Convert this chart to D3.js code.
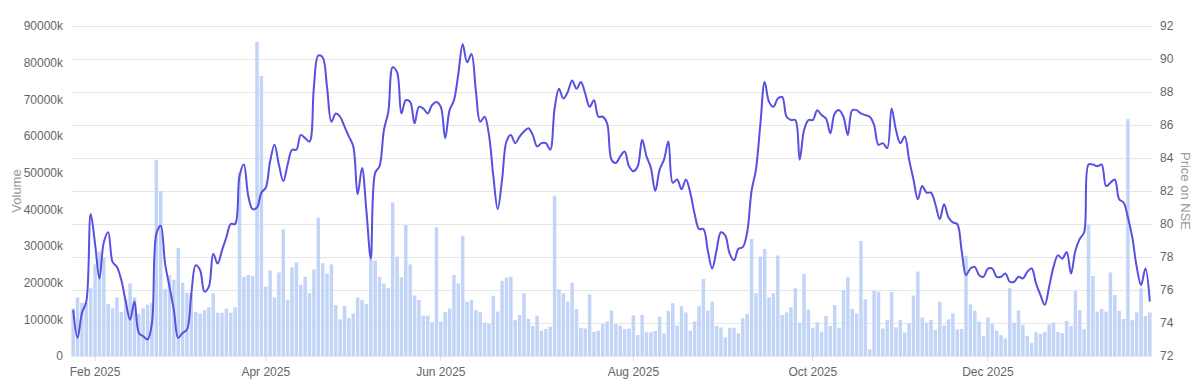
<!DOCTYPE html>
<html><head><meta charset="utf-8">
<script src="https://cdn.jsdelivr.net/npm/d3@7"></script>
<style>
body{margin:0;background:#fff;}
text{font-family:"Liberation Sans",Arial,Helvetica,sans-serif;}
</style>
</head><body>
<svg id="chart" width="1204" height="390"></svg>
<script>
// ---- calendar (NSE trading sessions) ----
const startDate = "2025-01-27";
const endDate = "2026-01-23";
const extraSessions = ["2025-02-01"];
const holidays = ["2025-02-26","2025-03-14","2025-03-31","2025-04-10","2025-04-14","2025-04-18",
  "2025-05-01","2025-08-15","2025-08-27","2025-10-02","2025-10-22","2025-11-05","2025-12-25",
  "2026-01-15","2026-01-26"];

// ---- volume, thousands of shares ----
const volumeK = [
  13,16,14.5,14.5,18.5,25,28.5,27,14.2,13,16,12,15.5,19.8,16,11.5,13,14,14.5,53.5,45,
  18.3,22,20.8,29.5,20,17.2,17,12,11.6,12.5,
  13.3,17.1,11.8,11.8,12.9,11.8,13.3,50,21.6,22.1,21.8,85.7,76.4,18.9,23.3,16,22.8,34.5,15.3,24.2,25.5,19.4,21.6,17.1,23.6,37.7,25.3,22.5,25,13.9,10,
  13.6,10.4,11.6,16,15.3,14.2,26.4,26,21.6,19.8,18.5,41.9,27.1,21.5,35.7,25,16.5,15.3,11,11,9.2,35.1,9.4,12,13,22.1,19.8,32.8,14.8,15.3,
  12.5,12,9.1,8.7,16.4,12.1,20.5,21.4,21.6,9.8,11.2,17.1,10.1,8.2,11,6.9,7.4,8,43.7,18.2,17.1,14.8,20,12.8,7.7,7.5,16.8,6.6,6.9,8.7,9.4,
  12.4,8.7,8.3,7.3,7.5,11.1,5.7,11.2,6.5,6.5,6.8,10.7,6.2,12.3,14.4,8.3,13.6,11.9,6.9,9.4,13.6,21,12.4,14.8,8.2,7.8,5.1,7.7,7.7,6.2,10.3,
  11.5,31.9,17.1,27.1,29.2,16,17.1,27.4,11.2,11.9,13.3,18.5,9.1,22.4,12.7,7.7,9.2,6.6,10.9,8.2,13.9,7.7,18,21.5,12.8,11.6,31.4,15.5,1.8,17.8,
  17.5,7.5,9.8,17.5,7.8,9.8,6.4,8.9,16.5,23,10.5,9.1,9.8,7.1,14.8,8.3,10,11.6,7.3,7.4,27.3,14.1,12.4,9.4,5.5,10.5,8.9,6.9,5.7,4.8,
  18.5,9.1,12.4,8.5,5.5,3.6,6.5,6,6.5,8.6,9.1,6.6,6.2,9.6,8.2,17.7,12.5,7.3,35.9,21.8,12.1,12.8,12.1,22.8,16.6,12.3,10.1,64.6,9.8,11.9,18.5,10.9,11.9
].map(v => v * 1000);

// ---- closing price on NSE ----
const price = [
  74.8,73.1,74.6,75.3,80.6,78.8,76.7,78.9,79.5,77.7,77.4,76.6,75.3,74.2,75.3,73.4,73.2,73.0,74.0,79.4,79.9,77.6,76.2,74.8,73.1,73.4,73.6,75.8,77.5,77.2,75.9,
  76.2,78.2,77.6,78.4,79.2,80.0,80.0,82.9,83.6,81.7,80.9,81.0,81.9,82.2,83.8,84.8,83.6,82.6,83.6,84.5,84.5,85.4,85.2,85.0,88.3,90.2,90.1,88.3,86.2,86.7,86.5,
  85.9,85.3,84.7,81.8,83.4,80.8,77.9,83.1,83.5,85.7,86.8,89.5,89.2,86.7,87.5,87.4,86.1,87.1,87.0,86.7,87.2,87.4,87.1,85.2,86.9,87.5,89.1,90.9,89.8,90.3,88.1,
  86.2,86.5,85.4,82.9,80.9,82.7,85.0,85.4,84.9,85.3,85.6,85.8,85.4,84.7,84.9,84.9,84.5,87.0,88.2,87.6,88.0,88.7,88.2,88.6,87.9,87.1,87.5,86.5,86.5,86.1,
  83.9,83.7,84.1,84.4,83.5,83.2,83.5,85.1,84.1,83.4,82.0,83.3,83.9,85.0,82.5,82.7,82.1,82.7,81.9,80.6,79.7,79.7,78.4,77.3,78.4,79.5,79.3,78.2,77.8,78.5,
  78.6,79.5,82.0,83.3,86.0,88.6,87.4,87.1,87.6,87.7,86.5,86.3,86.3,83.9,85.7,86.3,86.3,86.9,86.6,86.4,85.5,86.7,86.9,86.5,85.4,86.9,86.9,86.7,86.6,86.5,86.0,
  84.8,84.9,84.6,87.0,85.7,84.9,85.3,83.9,82.7,81.5,82.3,81.9,81.9,81.2,80.3,81.2,80.4,80.1,80.0,78.4,76.9,77.3,77.4,76.9,76.8,77.3,77.3,76.8,76.8,77.0,
  76.5,76.5,76.8,76.7,77.1,77.3,76.4,75.7,75.1,76.2,77.4,78.1,77.9,78.3,77.0,78.4,79.1,79.5,83.6,83.6,83.5,83.6,82.3,82.5,82.7,81.5,81.3,80.4,79.2,77.4,76.3,77.3,75.3
];

const volumeTicks = [0,10000,20000,30000,40000,50000,60000,70000,80000,90000];
const priceTicks = [72,74,76,78,80,82,84,86,88,90,92];
const monthTicks = ["2025-02","2025-04","2025-06","2025-08","2025-10","2025-12"];
const monthTickLabels = ["Feb 2025","Apr 2025","Jun 2025","Aug 2025","Oct 2025","Dec 2025"];

// ---- build trading dates ----
const fmt = d3.utcFormat("%Y-%m-%d");
const dates = [];
for (let d = new Date(startDate + "T00:00:00Z"); d <= new Date(endDate + "T00:00:00Z"); d = d3.utcDay.offset(d, 1)) {
  const s = fmt(d), wd = d.getUTCDay();
  if ((wd !== 0 && wd !== 6 && !holidays.includes(s)) || extraSessions.includes(s)) dates.push(s);
}
const data = dates.map((d, i) => ({date: d, vol: volumeK[i], price: price[i]}));

// ---- layout ----
const svg = d3.select("#chart");
const L = 71, R = 1152, T = 26, B = 356;

const x = d3.scaleBand().domain(dates).range([L, R]).paddingInner(0.2).paddingOuter(0.1);
const yVol = d3.scaleLinear().domain([0, 90000]).range([B, T]);
const yPrice = d3.scaleLinear().domain([72, 92]).range([B, T]);
const cx = d => x(d) + x.bandwidth() / 2;

// grid (price axis)
svg.append("g").selectAll("line").data(priceTicks).join("line")
  .attr("x1", L).attr("x2", R)
  .attr("y1", d => Math.round(yPrice(d)) + 0.5).attr("y2", d => Math.round(yPrice(d)) + 0.5)
  .attr("stroke", "#e6e6e6").attr("stroke-width", 1);

// bars
svg.append("g").selectAll("rect").data(data).join("rect")
  .attr("x", d => x(d.date)).attr("width", x.bandwidth())
  .attr("y", d => yVol(d.vol)).attr("height", d => B - yVol(d.vol))
  .attr("fill", "#c2d5f7");

// line
const line = d3.line().x(d => cx(d.date)).y(d => yPrice(d.price)).curve(d3.curveCatmullRom.alpha(0.5));
svg.append("path").datum(data).attr("d", line)
  .attr("fill", "none").attr("stroke", "#5850e0").attr("stroke-width", 2).attr("stroke-linejoin", "round");

// x axis
const tickDates = monthTicks.map(m => dates.find(d => d.startsWith(m)));
const xAxis = d3.axisBottom(x).tickValues(tickDates)
  .tickFormat((d, i) => monthTickLabels[i]).tickSize(5).tickPadding(6);
const gx = svg.append("g").attr("transform", `translate(0,${B})`).call(xAxis);
gx.select(".domain").remove();
gx.selectAll(".tick line").attr("stroke", "#ddd");
gx.selectAll(".tick text").attr("fill", "#666").attr("font-size", 12)
  .attr("font-family", "Liberation Sans, Arial, sans-serif");

// left axis (volume)
const gl = svg.append("g").attr("transform", `translate(${L},0)`)
  .call(d3.axisLeft(yVol).tickValues(volumeTicks).tickFormat(d => d === 0 ? "0" : (d + "k")).tickSize(0).tickPadding(8));
gl.select(".domain").remove();
gl.selectAll(".tick text").attr("fill", "#666").attr("font-size", 12)
  .attr("font-family", "Liberation Sans, Arial, sans-serif");

// right axis (price)
const gr = svg.append("g").attr("transform", `translate(${R},0)`)
  .call(d3.axisRight(yPrice).tickValues(priceTicks).tickFormat(d3.format("d")).tickSize(0).tickPadding(8));
gr.select(".domain").remove();
gr.selectAll(".tick text").attr("fill", "#666").attr("font-size", 12)
  .attr("font-family", "Liberation Sans, Arial, sans-serif");

// axis titles
svg.append("text").attr("transform", `translate(21,${(T + B) / 2}) rotate(-90)`)
  .attr("text-anchor", "middle").attr("fill", "#999").attr("font-size", 13).text("Volume");
svg.append("text").attr("transform", `translate(1181,${(T + B) / 2}) rotate(90)`)
  .attr("text-anchor", "middle").attr("fill", "#999").attr("font-size", 13).text("Price on NSE");
</script>
</body></html>
